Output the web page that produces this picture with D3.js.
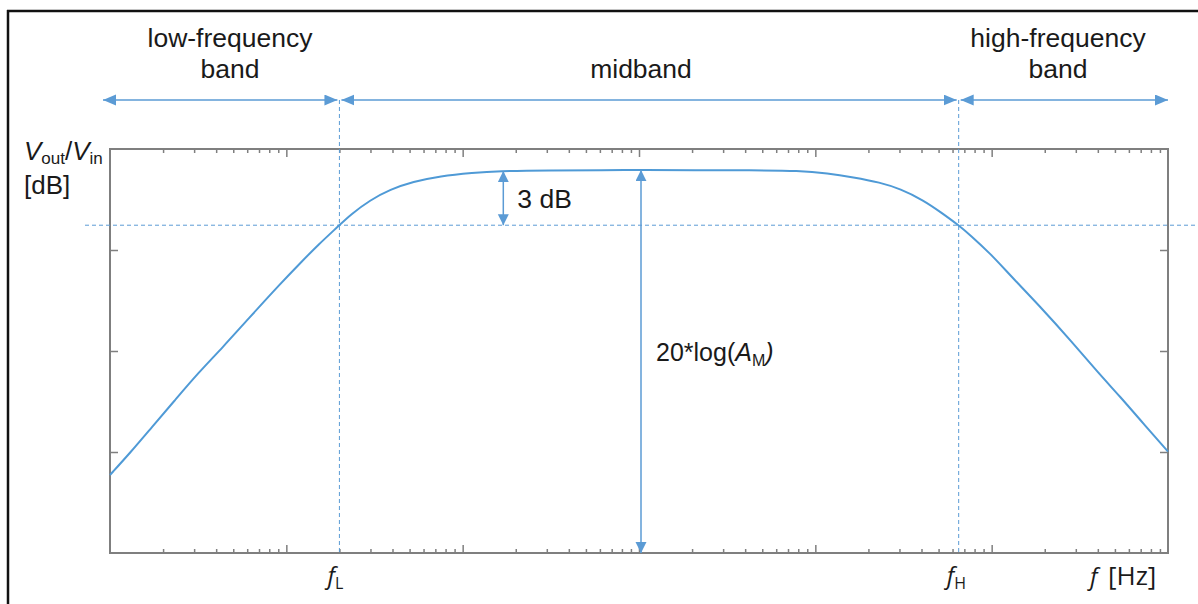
<!DOCTYPE html>
<html>
<head>
<meta charset="utf-8">
<script src="https://cdn.jsdelivr.net/npm/d3@7"></script>
<style>
  html, body { margin: 0; padding: 0; background: #fff; }
  svg { display: block; }
  text { font-family: "Liberation Sans", Arial, sans-serif; fill: #1a1a1a; }
  .calibri { font-family: "Open Sans", "Liberation Sans", sans-serif; }
</style>
</head>
<body>
<svg id="chart" width="1198" height="604"></svg>
<script>
// Frequency response of an amplifier (schematic Bode magnitude plot)
const freqHz = [1, 1.3, 1.73, 2.34, 3.16, 4.38, 6, 9.45, 12, 15.1, 20, 23, 29.9, 38.8, 52.3, 74.4, 115, 157,
                313, 625, 1060, 2080, 4270, 8200, 11700, 16400, 23300, 30300, 40900, 51800,
                65000, 75500, 98000, 132000, 181000, 290000, 397000, 536000, 723000, 1000000];
const gainDb = [4.25, 5.45, 6.86, 8.33, 9.8, 11.22, 12.69, 14.76, 15.79, 16.77, 17.85, 18.41, 19.22, 19.8, 20.22, 20.53, 20.71, 20.8,
                20.84, 20.85, 20.85, 20.85, 20.84, 20.82, 20.68, 20.46, 20.18, 19.83, 19.22, 18.54,
                17.85, 17.32, 16.32, 14.96, 13.6, 11.42, 9.87, 8.51, 7.06, 5.52];

const fL = 20;            // lower cutoff frequency
const fH = 65000;         // upper cutoff frequency
const midbandDb = 20.85;  // 20*log(A_M)
const dropDb = 3;         // cutoff is 3 dB below midband
const dropArrowHz = 170;  // where the 3 dB dimension is drawn

const xDomain = [1, 1e6];
const yDomain = [0, 22];
const xMajorTicks = [10, 100, 1000, 10000, 100000];
const yTicks = [5.5, 11, 16.5];

const bandLabels = [
  { lines: ["low-frequency", "band"], center: 230 },
  { lines: ["midband"], center: 641 },
  { lines: ["high-frequency", "band"], center: 1058 }
];

const blue = "#5b9bd5";
const curveBlue = "#4f9ad6";
const axisGray = "#7f7f7f";

const svg = d3.select("#chart");

const x = d3.scaleLog().domain(xDomain).range([110, 1168]);
const y = d3.scaleLinear().domain(yDomain).range([553, 149]);

// minor ticks 2..9 in each decade
const xMinorTicks = [];
for (let d = 1; d < 1e6; d *= 10) {
  for (let m = 2; m <= 9; m++) xMinorTicks.push(d * m);
}

// outer frame (left and top edges)
svg.append("line").attr("x1", 8).attr("x2", 8).attr("y1", 10).attr("y2", 604)
  .attr("stroke", "#111").attr("stroke-width", 2.5);
svg.append("line").attr("x1", 7).attr("x2", 1198).attr("y1", 11).attr("y2", 11)
  .attr("stroke", "#111").attr("stroke-width", 2.5);

// arrow markers
const defs = svg.append("defs");
defs.append("marker")
  .attr("id", "head")
  .attr("markerUnits", "userSpaceOnUse")
  .attr("markerWidth", 14).attr("markerHeight", 12)
  .attr("refX", 13).attr("refY", 5.5)
  .attr("orient", "auto-start-reverse")
  .append("path").attr("d", "M0,0 L13,5.5 L0,11 Z").attr("fill", blue);
defs.append("marker")
  .attr("id", "headSmall")
  .attr("markerUnits", "userSpaceOnUse")
  .attr("markerWidth", 12).attr("markerHeight", 12)
  .attr("refX", 11).attr("refY", 5.5)
  .attr("orient", "auto-start-reverse")
  .append("path").attr("d", "M0,0 L11,5.5 L0,11 Z").attr("fill", blue);

// axes: box with inward ticks on all four sides
const g = svg.append("g");
function styleAxis(sel) {
  sel.select(".domain").remove();
  sel.selectAll(".tick line").attr("stroke", axisGray).attr("stroke-width", 1.5);
  sel.selectAll(".tick text").remove();
}
g.append("g").attr("transform", `translate(0,${y.range()[0]})`)
  .call(d3.axisBottom(x).tickValues(xMinorTicks).tickSize(-4).tickFormat("")).call(styleAxis);
g.append("g").attr("transform", `translate(0,${y.range()[0]})`)
  .call(d3.axisBottom(x).tickValues(xMajorTicks).tickSize(-8).tickFormat("")).call(styleAxis);
g.append("g").attr("transform", `translate(0,${y.range()[1]})`)
  .call(d3.axisTop(x).tickValues(xMinorTicks).tickSize(-4).tickFormat("")).call(styleAxis);
g.append("g").attr("transform", `translate(0,${y.range()[1]})`)
  .call(d3.axisTop(x).tickValues(xMajorTicks).tickSize(-8).tickFormat("")).call(styleAxis);
g.append("g").attr("transform", `translate(${x.range()[0]},0)`)
  .call(d3.axisLeft(y).tickValues(yTicks).tickSize(-8).tickFormat("")).call(styleAxis);
g.append("g").attr("transform", `translate(${x.range()[1]},0)`)
  .call(d3.axisRight(y).tickValues(yTicks).tickSize(-8).tickFormat("")).call(styleAxis);
g.append("rect")
  .attr("x", x.range()[0]).attr("y", y.range()[1])
  .attr("width", x.range()[1] - x.range()[0]).attr("height", y.range()[0] - y.range()[1])
  .attr("fill", "none").attr("stroke", axisGray).attr("stroke-width", 2);

// band arrows along the top
const bandY = 100;
const bands = [
  [x(xDomain[0]) - 7, x(fL) - 2],
  [x(fL) + 2, x(fH) - 2],
  [x(fH) + 2, x(xDomain[1])]
];
bands.forEach(([a, b], i) => {
  svg.append("line").attr("x1", a).attr("x2", b).attr("y1", bandY).attr("y2", bandY)
    .attr("stroke", blue).attr("stroke-width", 1.5)
    .attr("marker-start", "url(#head)").attr("marker-end", "url(#head)");
  const { lines, center } = bandLabels[i];
  const t = svg.append("text").attr("text-anchor", "middle").attr("font-size", 26.5);
  lines.forEach((s, k) => {
    t.append("tspan").attr("x", center).attr("y", 78 - (lines.length - 1 - k) * 31).text(s);
  });
});

// cutoff guides
const cutY = y(midbandDb - dropDb);
[fL, fH].forEach(f => {
  svg.append("line").attr("x1", x(f)).attr("x2", x(f)).attr("y1", bandY).attr("y2", y.range()[0])
    .attr("stroke", blue).attr("stroke-width", 1).attr("stroke-dasharray", "4,3");
});
svg.append("line").attr("x1", 85).attr("x2", 1198).attr("y1", cutY).attr("y2", cutY)
  .attr("stroke", blue).attr("stroke-width", 1).attr("stroke-dasharray", "4,3");

// response curve
const line = d3.line().x(d => x(d[0])).y(d => y(d[1])).curve(d3.curveBasis);
svg.append("path")
  .datum(freqHz.map((f, i) => [f, gainDb[i]]))
  .attr("d", line)
  .attr("fill", "none").attr("stroke", curveBlue).attr("stroke-width", 2);

// 3 dB dimension arrow
const dropX = x(dropArrowHz);
svg.append("line").attr("x1", dropX).attr("x2", dropX)
  .attr("y1", y(midbandDb) + 1).attr("y2", cutY)
  .attr("stroke", blue).attr("stroke-width", 1.5)
  .attr("marker-start", "url(#headSmall)").attr("marker-end", "url(#headSmall)");
svg.append("text").attr("x", dropX + 14).attr("y", 208).attr("font-size", 26.5).text("3 dB");

// midband gain dimension arrow
const gainX = x(1000) + 2;
svg.append("line").attr("x1", gainX).attr("x2", gainX)
  .attr("y1", y(midbandDb)).attr("y2", y(yDomain[0]))
  .attr("stroke", blue).attr("stroke-width", 1.5)
  .attr("marker-start", "url(#headSmall)").attr("marker-end", "url(#headSmall)");
const gl = svg.append("text").attr("x", gainX + 15).attr("y", 361).attr("font-size", 25);
gl.append("tspan").text("20*log(");
gl.append("tspan").attr("font-style", "italic").text("A");
gl.append("tspan").attr("font-size", 16).attr("dy", 5).text("M");
gl.append("tspan").attr("dy", -5).attr("font-style", "italic").text(")");

// y-axis title
const yt = svg.append("text").attr("x", 24).attr("y", 160).attr("font-size", 26);
yt.append("tspan").attr("font-style", "italic").text("V");
yt.append("tspan").attr("font-size", 17).attr("dy", 4).text("out");
yt.append("tspan").attr("dy", -4).text("/");
yt.append("tspan").attr("font-style", "italic").text("V");
yt.append("tspan").attr("font-size", 17).attr("dy", 4).text("in");
svg.append("text").attr("x", 24).attr("y", 194).attr("font-size", 26).text("[dB]");

// x-axis labels
function subLabel(f, sub) {
  const t = svg.append("text").attr("class", "calibri").attr("x", x(f) - 12).attr("y", 584)
    .attr("font-size", 24);
  t.append("tspan").attr("font-style", "italic").text("f");
  t.append("tspan").attr("font-size", 16).attr("dy", 5).text(sub);
}
subLabel(fL, "L");
subLabel(fH, "H");
const xt = svg.append("text").attr("class", "calibri").attr("x", 1090).attr("y", 585).attr("font-size", 24);
xt.append("tspan").attr("font-style", "italic").text("f");
xt.append("tspan").attr("x", 1108).attr("font-size", 26).text("[Hz]");
</script>
</body>
</html>
